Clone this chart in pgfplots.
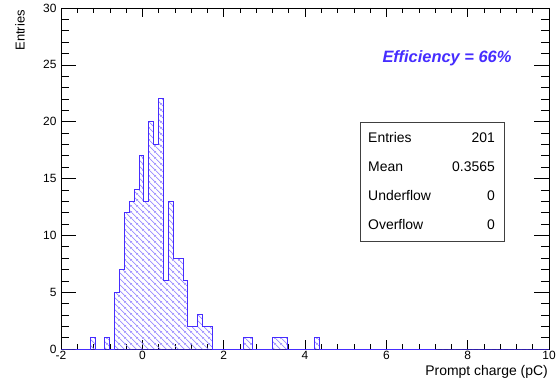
\documentclass[border=0pt]{standalone}
\usepackage{pgfplots}
\pgfplotsset{compat=1.18}
\usepackage{fontspec}
\setmainfont{Liberation Sans}
\usetikzlibrary{patterns.meta}
\definecolor{histblue}{RGB}{70,45,255}
\tikzdeclarepattern{
  name=bluehatch, type=colored,
  bottom left={(0bp,0bp)}, top right={(6bp,6bp)},
  tile size={(6bp,6bp)},
  code={\draw[histblue!55, line width=0.7bp] (0bp,6bp)--(6bp,0bp) (-1bp,1bp)--(1bp,-1bp) (5bp,7bp)--(7bp,5bp);}
}
\begin{document}
\begin{tikzpicture}[x=1bp,y=1bp]
\useasboundingbox (0,0) rectangle (557,385);
\begin{axis}[
  at={(61bp,36bp)}, anchor=south west,
  scale only axis, width=488bp, height=341bp,
  xmin=-2, xmax=10, ymin=0, ymax=30,
  xtick={-2,0,2,4,6,8,10}, xticklabels={-2,0,2,4,6,8,10},
  ytick={0,5,10,15,20,25,30}, yticklabels={0,5,10,15,20,25,30},
  minor x tick num=4, minor y tick num=4,
  tick align=inside,
  axis line style={line width=0.8pt},
  major tick length=15bp, minor tick length=8bp,
  xtick style={/pgfplots/major tick length=9bp,/pgfplots/minor tick length=5bp, black, line width=0.6pt},
  ytick style={black, line width=0.6pt},
  tick label style={font=\fontsize{12}{14}\selectfont},
  xticklabel style={yshift=1bp},
  yticklabel style={xshift=-1bp},
  clip=false,
]
\addplot[const plot mark left, draw=histblue, line width=1pt, pattern=bluehatch]
coordinates {
(-2,0) (-1.28,1) (-1.16,0) (-0.92,1) (-0.80,0) (-0.68,5) (-0.56,7) (-0.44,12)
(-0.32,13) (-0.20,14) (-0.08,17) (0.04,13) (0.16,20) (0.28,18) (0.40,22)
(0.52,6) (0.64,13) (0.76,8) (1.00,6) (1.12,2) (1.36,3) (1.48,2) (1.72,0)
(2.48,1) (2.72,0) (3.20,1) (3.56,0) (4.24,1) (4.36,0) (10,0)
} \closedcycle;
\end{axis}
% axis titles
\node[rotate=90, anchor=east, font=\fontsize{13}{15}\selectfont, inner sep=0pt] at (20,375) {Entries};
\node[anchor=base east, font=\fontsize{14}{16}\selectfont, inner sep=0pt] at (548,10) {Prompt charge (pC)};
% efficiency text
\node[font=\fontsize{16.5}{20}\selectfont\bfseries\itshape, text=histblue, inner sep=0pt] at (447,327) {Efficiency = 66\%};
% stats box
\draw[draw=black!75, fill=white, line width=0.7pt] (360,144) rectangle (504,263);
\begin{scope}[every node/.style={font=\fontsize{14}{16}\selectfont, inner sep=0pt}]
\node[anchor=west] at (368,247) {Entries};
\node[anchor=east] at (495,247) {201};
\node[anchor=west] at (368,218) {Mean};
\node[anchor=east] at (495,218) {0.3565};
\node[anchor=west] at (368,189) {Underflow};
\node[anchor=east] at (495,189) {0};
\node[anchor=west] at (368,160) {Overflow};
\node[anchor=east] at (495,160) {0};
\end{scope}
\end{tikzpicture}
\end{document}
